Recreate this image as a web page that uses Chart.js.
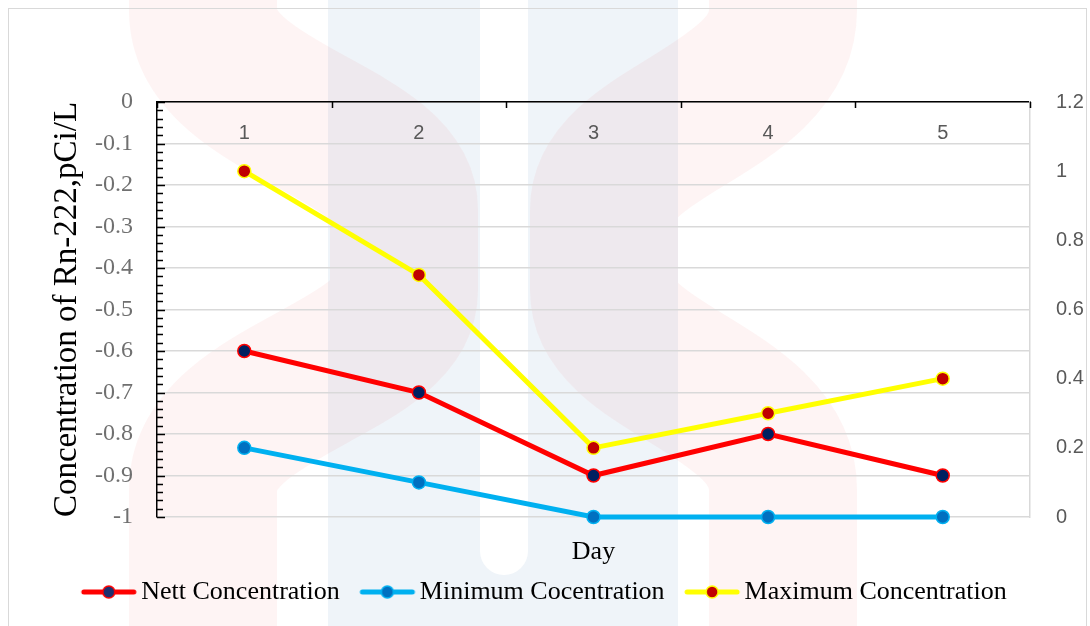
<!DOCTYPE html>
<html>
<head>
<meta charset="utf-8">
<script src="https://cdn.jsdelivr.net/npm/chart.js@4.4.1/dist/chart.umd.min.js"></script>
<style>
  html, body { margin: 0; padding: 0; background: #fff; }
  #wrap { width: 1090px; height: 626px; }
</style>
</head>
<body>
<div id="wrap"><canvas id="radonChart" width="1090" height="626"></canvas></div>
<script>
// Data
const days = ['1', '2', '3', '4', '5'];
const nettConcentration = [-0.6, -0.7, -0.9, -0.8, -0.9];   // left axis
const minimumConcentration = [0.2, 0.1, 0, 0, 0];           // right axis
const maximumConcentration = [1.0, 0.7, 0.2, 0.3, 0.4];     // right axis
const leftTicks = [0, -0.1, -0.2, -0.3, -0.4, -0.5, -0.6, -0.7, -0.8, -0.9, -1];
const rightTicks = [0, 0.2, 0.4, 0.6, 0.8, 1, 1.2];

const serif = 'Liberation Serif';
const sans = 'Liberation Sans';

// Legend icon: short line with the marker in the middle (left part of the canvas is blank spacing)
function legendIcon(line, fill, border) {
    const c = document.createElement('canvas');
    c.width = 76;
    c.height = 16;
    const g = c.getContext('2d');
    g.strokeStyle = line;
    g.lineWidth = 5;
    g.lineCap = 'round';
    g.beginPath();
    g.moveTo(22, 8);
    g.lineTo(72, 8);
    g.stroke();
    g.beginPath();
    g.arc(47, 8, 6, 0, Math.PI * 2);
    g.fillStyle = fill;
    g.fill();
    g.lineWidth = 1.5;
    g.strokeStyle = border;
    g.stroke();
    return c;
}

// Faint logo watermark behind everything + outer frame
const background = {
    id: 'background',
    beforeDraw(chart) {
        const ctx = chart.ctx;
        ctx.save();
        ctx.fillStyle = '#fff';
        ctx.fillRect(0, 0, chart.width, chart.height);

        // blue columns
        ctx.fillStyle = 'rgba(40,110,170,0.075)';
        ctx.fillRect(328, 0, 350, chart.height);

        // two pink chevrons ">" and "<"
        ctx.strokeStyle = 'rgba(230,60,60,0.06)';
        ctx.lineWidth = 148;
        ctx.beginPath();
        ctx.moveTo(203, -20);
        ctx.lineTo(203, 10);
        ctx.bezierCurveTo(203, 110, 404, 130, 404, 210);
        ctx.lineTo(404, 290);
        ctx.bezierCurveTo(404, 370, 203, 390, 203, 490);
        ctx.lineTo(203, 660);
        ctx.stroke();
        ctx.beginPath();
        ctx.moveTo(783, -20);
        ctx.lineTo(783, 10);
        ctx.bezierCurveTo(783, 110, 604, 130, 604, 210);
        ctx.lineTo(604, 290);
        ctx.bezierCurveTo(604, 370, 783, 390, 783, 490);
        ctx.lineTo(783, 660);
        ctx.stroke();

        // white slot between the columns
        ctx.fillStyle = '#fff';
        ctx.beginPath();
        ctx.roundRect(480, -30, 48, 605, 24);
        ctx.fill();

        ctx.strokeStyle = '#d9d9d9';
        ctx.lineWidth = 1;
        ctx.strokeRect(8.5, 8.5, 1078, 700);
        ctx.restore();
    }
};

// Inward major/minor tick marks on the left axis and the top axis
const axisTicks = {
    id: 'axisTicks',
    afterDraw(chart) {
        const ctx = chart.ctx;
        const y = chart.scales.y;
        const x = chart.scales.x;
        const area = chart.chartArea;
        ctx.save();
        ctx.strokeStyle = '#000';
        ctx.lineWidth = 1.5;
        ctx.beginPath();
        for (let i = 0; i <= 50; i++) {
            const py = Math.round(y.getPixelForValue(-i / 50)) + 0.5;
            const len = i % 5 === 0 ? 8 : 6;
            ctx.moveTo(area.left, py);
            ctx.lineTo(area.left + len, py);
        }
        const step = x.getPixelForValue(1) - x.getPixelForValue(0);
        for (let i = 0; i <= days.length; i++) {
            const px = Math.round(x.getPixelForValue(0) - step / 2 + i * step) + 0.5;
            ctx.moveTo(px, area.top);
            ctx.lineTo(px, area.top + 6);
        }
        ctx.stroke();
        ctx.restore();
    }
};

const ctx = document.getElementById('radonChart').getContext('2d');
const radonChart = new Chart(ctx, {
    type: 'line',
    data: {
        labels: days,
        datasets: [
            {
                label: 'Nett Concentration',
                data: nettConcentration,
                yAxisID: 'y',
                clip: false,
                borderColor: '#ff0000',
                pointBackgroundColor: '#002060',
                pointBorderColor: '#ff0000',
                icon: legendIcon('#ff0000', '#1f2f6e', '#ff0000')
            },
            {
                label: 'Minimum Cocentration',
                data: minimumConcentration,
                yAxisID: 'yRight',
                clip: false,
                borderColor: '#00b0f0',
                pointBackgroundColor: '#0070c0',
                pointBorderColor: '#00b0f0',
                icon: legendIcon('#00b0f0', '#0070c0', '#00b0f0')
            },
            {
                label: 'Maximum Concentration',
                data: maximumConcentration,
                yAxisID: 'yRight',
                clip: false,
                borderColor: '#ffff00',
                pointBackgroundColor: '#c00000',
                pointBorderColor: '#ffff00',
                icon: legendIcon('#ffff00', '#c00000', '#ffff00')
            }
        ]
    },
    options: {
        responsive: false,
        animation: false,
        layout: { padding: { left: -12, right: 0, top: 102, bottom: 11 } },
        elements: {
            line: { borderWidth: 5, tension: 0 },
            point: { radius: 6.5, borderWidth: 1.5, hoverRadius: 6.5 }
        },
        scales: {
            x: {
                type: 'category',
                position: 'top',
                offset: true,
                grid: { display: false, drawTicks: false },
                border: { display: true, color: '#000', width: 1.5 },
                ticks: { mirror: true, padding: 19, color: '#595959', font: { family: sans, size: 20 } },
                afterFit: s => { s.height = 0; }
            },
            xTitle: {
                type: 'category',
                position: 'bottom',
                offset: true,
                grid: { display: false, drawTicks: false },
                border: { display: false },
                ticks: { display: false },
                title: {
                    display: true,
                    text: 'Day',
                    color: '#000',
                    font: { family: serif, size: 26 },
                    padding: { top: 0, bottom: 1 }
                },
                afterFit: s => { s.height = 52; }
            },
            y: {
                position: 'left',
                min: -1,
                max: 0,
                afterBuildTicks: s => { s.ticks = leftTicks.map(v => ({ value: v })); },
                grid: { color: '#d9d9d9', lineWidth: 1.5, drawTicks: false },
                border: { color: '#000', width: 1.5 },
                ticks: {
                    padding: 24,
                    color: '#707070',
                    font: { family: serif, size: 24 },
                    callback: v => String(v)
                },
                title: {
                    display: true,
                    text: 'Concentration of Rn-222,pCi/L',
                    color: '#000',
                    font: { family: serif, size: 33 },
                    padding: { top: 60, bottom: 0 }
                },
                afterFit: s => { s.width = 169; }
            },
            yRight: {
                position: 'right',
                min: 0,
                max: 1.2,
                afterBuildTicks: s => { s.ticks = rightTicks.map(v => ({ value: v })); },
                grid: { drawOnChartArea: false, drawTicks: false },
                border: { color: '#d9d9d9', width: 1.5 },
                ticks: {
                    padding: 26,
                    color: '#595959',
                    font: { family: sans, size: 20 },
                    callback: v => String(v)
                },
                afterFit: s => { s.width = 60; }
            }
        },
        plugins: {
            tooltip: { enabled: false },
            legend: {
                position: 'bottom',
                labels: {
                    usePointStyle: true,
                    pointStyleWidth: 57,
                    boxHeight: 16,
                    padding: 10,
                    color: '#000',
                    font: { family: serif, size: 26 },
                    generateLabels: chart => chart.data.datasets.map((ds, i) => ({
                        text: ds.label,
                        pointStyle: ds.icon,
                        datasetIndex: i,
                        hidden: false,
                        lineWidth: 0,
                        fillStyle: ds.borderColor,
                        strokeStyle: ds.borderColor,
                        fontColor: '#000'
                    }))
                }
            }
        }
    },
    plugins: [background, axisTicks]
});
</script>
</body>
</html>
